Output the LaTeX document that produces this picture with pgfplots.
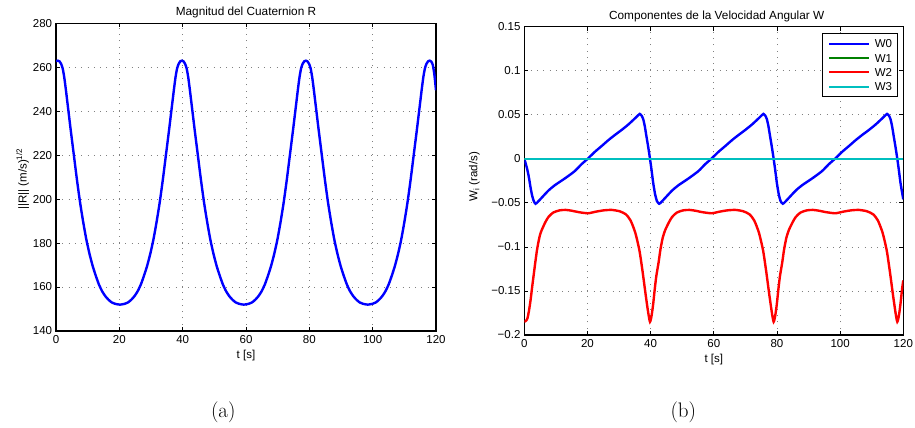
\documentclass[border=0pt]{standalone}
\usepackage{fontspec}
\usepackage{pgfplots}
\pgfplotsset{compat=1.18}
\newfontfamily\arial{Liberation Sans}
\definecolor{mblue}{rgb}{0,0,1}
\definecolor{mgreen}{rgb}{0,0.5,0}
\definecolor{mred}{rgb}{1,0,0}
\definecolor{mcyan}{rgb}{0,0.75,0.75}
\newcommand{\mfont}{\arial\fontsize{11.5}{13}\selectfont}

\pgfplotsset{
  mat/.style={
    scale only axis, anchor=south west,
    xmin=0, xmax=120, xtick={0,20,...,120},
    tick align=inside, major tick length=4pt,
    every tick/.style={black, line width=0.8pt},
    axis line style={line width=1.2pt},
    grid=major,
    grid style={black!50, line width=0.8pt, dash pattern=on 0.9pt off 5.4pt},
    tick label style={font=\mfont},
    /pgf/number format/assume math mode=true,
    xticklabel style={anchor=base, inner sep=0pt, yshift=-12.8pt},
    yticklabel style={anchor=east, inner sep=0pt, xshift=-3.7pt},
    label style={font=\mfont},
    title style={font=\arial\fontsize{11.8}{13}\selectfont, anchor=base, inner sep=0pt},
    xlabel style={at={(axis description cs:0.5,0)}, anchor=base, inner sep=0pt, yshift=-27.8pt},
    ylabel style={anchor=base, inner sep=0pt},
    xlabel={t [s]},
  }
}

\begin{document}
\begin{tikzpicture}
\path[use as bounding box] (0,0) rectangle (915pt,428pt);

% (a) magnitude
\begin{axis}[mat,
  at={(56pt,97pt)}, width=380pt, height=307.7pt,
  ymin=140, ymax=280, ytick={140,160,...,280},
  title={Magnitud del Cuaternion R},
  title style={at={(axis description cs:0.5,1)}, yshift=1.3pt},
  ylabel={||R|| (m/s)\textsuperscript{1/2}},
  ylabel style={at={(axis description cs:-0.0776,0.494)}},
]
\addplot[mblue, line width=2.4pt, smooth, tension=0.4] coordinates {
(0,262.8) (0.6,263.0) (1.1,262.7) (1.6,261.6) (2.1,259.5) (2.6,255.5) (3.1,250.0) (3.6,244.0)
(4.1,238.0) (4.6,232.0) (5.6,220.5) (6.6,209.0) (7.6,198.5) (8.6,189.5) (9.6,181.5) (10.6,175.0)
(11.6,169.5) (12.6,165.0) (13.6,161.0) (14.6,158.0) (15.6,155.8) (16.6,154.2) (17.6,153.0)
(18.6,152.4) (19.6,152.1) (20.2,152.0)
(20.75,152.1) (21.75,152.4) (22.75,153.0) (23.75,154.2) (24.75,155.8) (25.75,158.0) (26.75,161.0)
(27.75,165.0) (28.75,169.5) (29.75,175.0) (30.75,181.5) (31.75,189.5) (32.75,198.5) (33.75,209.0)
(34.75,220.5) (35.75,232.0) (36.25,238.0) (36.75,244.0) (37.25,250.0) (37.75,255.5) (38.25,259.5)
(38.75,261.6) (39.25,262.7) (39.75,263.0)
(40.25,262.7) (40.75,261.6) (41.25,259.5) (41.75,255.5) (42.25,250.0) (42.75,244.0) (43.25,238.0)
(43.75,232.0) (44.75,220.5) (45.75,209.0) (46.75,198.5) (47.75,189.5) (48.75,181.5) (49.75,175.0)
(50.75,169.5) (51.75,165.0) (52.75,161.0) (53.75,158.0) (54.75,155.8) (55.75,154.2) (56.75,153.0)
(57.75,152.4) (58.75,152.1) (59.3,152.0)
(59.9,152.1) (60.9,152.4) (61.9,153.0) (62.9,154.2) (63.9,155.8) (64.9,158.0) (65.9,161.0)
(66.9,165.0) (67.9,169.5) (68.9,175.0) (69.9,181.5) (70.9,189.5) (71.9,198.5) (72.9,209.0)
(73.9,220.5) (74.9,232.0) (75.4,238.0) (75.9,244.0) (76.4,250.0) (76.9,255.5) (77.4,259.5)
(77.9,261.6) (78.4,262.7) (78.9,263.0)
(79.4,262.7) (79.9,261.6) (80.4,259.5) (80.9,255.5) (81.4,250.0) (81.9,244.0) (82.4,238.0)
(82.9,232.0) (83.9,220.5) (84.9,209.0) (85.9,198.5) (86.9,189.5) (87.9,181.5) (88.9,175.0)
(89.9,169.5) (90.9,165.0) (91.9,161.0) (92.9,158.0) (93.9,155.8) (94.9,154.2) (95.9,153.0)
(96.9,152.4) (97.9,152.1) (98.45,152.0)
(99.0,152.1) (100.0,152.4) (101.0,153.0) (102.0,154.2) (103.0,155.8) (104.0,158.0) (105.0,161.0)
(106.0,165.0) (107.0,169.5) (108.0,175.0) (109.0,181.5) (110.0,189.5) (111.0,198.5) (112.0,209.0)
(113.0,220.5) (114.0,232.0) (114.5,238.0) (115.0,244.0) (115.5,250.0) (116.0,255.5) (116.5,259.5)
(117.0,261.6) (117.5,262.7) (118.0,263.0)
(118.5,262.6) (119.0,261.0) (119.5,256.5) (120,249.5)
};
\end{axis}

% (b) angular velocity components
\begin{axis}[mat,
  at={(524.3pt,93pt)}, width=379pt, height=308.3pt,
  ymin=-0.2, ymax=0.15,
  ytick={-0.2,-0.15,-0.1,-0.05,0,0.05,0.1,0.15},
  yticklabels={−0.2,−0.15,−0.1,−0.05,0,0.05,0.1,0.15},
  title={Componentes de la Velocidad Angular W},
  title style={at={(axis description cs:0.5077,1)}, yshift=1.4pt},
  ylabel={W\textsubscript{i} (rad/s)},
  ylabel style={at={(axis description cs:-0.1235,0.513)}},
  legend style={at={(axis description cs:0.986,0.978)}, anchor=north east,
    draw=black, line width=0.9pt, fill=white, inner xsep=5.5pt, inner ysep=5.5pt,
    row sep=6pt, column sep=4.3pt, font=\mfont,
    nodes={inner sep=0pt, text height=8.3pt, text depth=0pt, anchor=base west}},
  legend cell align=left,
  legend image code/.code={\draw[#1, line width=2.2pt] (0pt,4pt) -- (40pt,4pt);},
]
\addplot[mblue, line width=2.4pt, smooth, tension=0.4] coordinates {
(0,0) (0.5,-0.006) (1.0,-0.013) (1.5,-0.022) (2.0,-0.033) (2.5,-0.042) (3.0,-0.048) (3.55,-0.051)
(4.25,-0.049) (5.55,-0.044) (7.65,-0.036) (9.65,-0.030) (12.95,-0.022) (15.95,-0.014) (18.15,-0.006)
(20.05,0) (22.35,0.008) (24.45,0.0144) (26.55,0.021) (28.65,0.027) (30.75,0.0326) (32.95,0.039)
(35.05,0.046) (36.05,0.0495) (36.55,0.051) (37.15,0.049) (37.65,0.045) (38.15,0.037) (38.65,0.026)
(39.25,0.013)
(39.8,0) (40.3,-0.013) (40.8,-0.027) (41.4,-0.040) (42.0,-0.048) (42.7,-0.051) (43.4,-0.049)
(44.7,-0.044) (46.8,-0.036) (48.8,-0.030) (52.1,-0.022) (55.1,-0.014) (57.3,-0.006) (59.2,0)
(61.5,0.008) (63.6,0.0144) (65.7,0.021) (67.8,0.027) (69.9,0.0326) (72.1,0.039) (74.2,0.046)
(75.2,0.0495) (75.7,0.051) (76.3,0.049) (76.8,0.045) (77.3,0.037) (77.8,0.026) (78.4,0.013)
(78.95,0) (79.45,-0.013) (79.95,-0.027) (80.55,-0.040) (81.15,-0.048) (81.85,-0.051) (82.55,-0.049)
(83.85,-0.044) (85.95,-0.036) (87.95,-0.030) (91.25,-0.022) (94.25,-0.014) (96.45,-0.006) (98.35,0)
(100.65,0.008) (102.75,0.0144) (104.85,0.021) (106.95,0.027) (109.05,0.0326) (111.25,0.039)
(113.35,0.046) (114.35,0.0495) (114.85,0.051) (115.45,0.049) (115.95,0.045) (116.45,0.037)
(116.95,0.026) (117.55,0.013)
(118.1,0) (118.6,-0.013) (119.1,-0.027) (119.7,-0.040) (120,-0.046)
};
\addplot[mgreen, line width=2.4pt] coordinates {(0,0) (120,0)};
\addplot[mred, line width=2.4pt, smooth, tension=0.4] coordinates {
(0,-0.185) (0.5,-0.184) (1.0,-0.181) (1.5,-0.172) (2.0,-0.160) (2.5,-0.145) (3.0,-0.131)
(3.5,-0.117) (4.0,-0.104) (4.5,-0.094) (5.0,-0.086) (5.5,-0.081)
(6.65,-0.072) (7.65,-0.066) (9.15,-0.061) (11.15,-0.0585) (13.15,-0.058) (15.15,-0.059)
(17.15,-0.0605) (20.15,-0.0618) (22.65,-0.060) (25.15,-0.0585) (27.65,-0.058) (30.15,-0.0595)
(32.15,-0.063) (33.65,-0.070) (35.15,-0.084) (36.45,-0.104) (37.45,-0.128) (38.45,-0.155)
(39.25,-0.175)
(39.8,-0.185) (40.3,-0.178) (40.8,-0.165) (41.3,-0.148) (41.8,-0.133) (42.5,-0.118) (43.1,-0.103)
(43.8,-0.090) (44.6,-0.081) (45.8,-0.072) (46.8,-0.066) (48.3,-0.061) (50.3,-0.0585) (52.3,-0.058)
(54.3,-0.059) (56.3,-0.0605) (59.3,-0.0618) (61.8,-0.060) (64.3,-0.0585) (66.8,-0.058)
(69.3,-0.0595) (71.3,-0.063) (72.8,-0.070) (74.3,-0.084) (75.6,-0.104) (76.6,-0.128) (77.6,-0.155)
(78.4,-0.175)
(78.95,-0.185) (79.45,-0.178) (79.95,-0.165) (80.45,-0.148) (80.95,-0.133) (81.65,-0.118)
(82.25,-0.103) (82.95,-0.090) (83.75,-0.081) (84.95,-0.072) (85.95,-0.066) (87.45,-0.061)
(89.45,-0.0585) (91.45,-0.058) (93.45,-0.059) (95.45,-0.0605) (98.45,-0.0618) (100.95,-0.060)
(103.45,-0.0585) (105.95,-0.058) (108.45,-0.0595) (110.45,-0.063) (111.95,-0.070) (113.45,-0.084)
(114.75,-0.104) (115.75,-0.128) (116.75,-0.155) (117.55,-0.175)
(118.1,-0.185) (118.6,-0.178) (119.1,-0.165) (119.6,-0.148) (120,-0.138)
};
\addplot[mcyan, line width=2.6pt] coordinates {(0,0) (120,0)};
\legend{W0,W1,W2,W3}
\end{axis}

\node[anchor=base, font=\fontsize{21}{25}\selectfont] at (223.3pt,10.6pt) {(a)};
\node[anchor=base, font=\fontsize{21}{25}\selectfont] at (683.3pt,10.6pt) {(b)};
\end{tikzpicture}
\end{document}
